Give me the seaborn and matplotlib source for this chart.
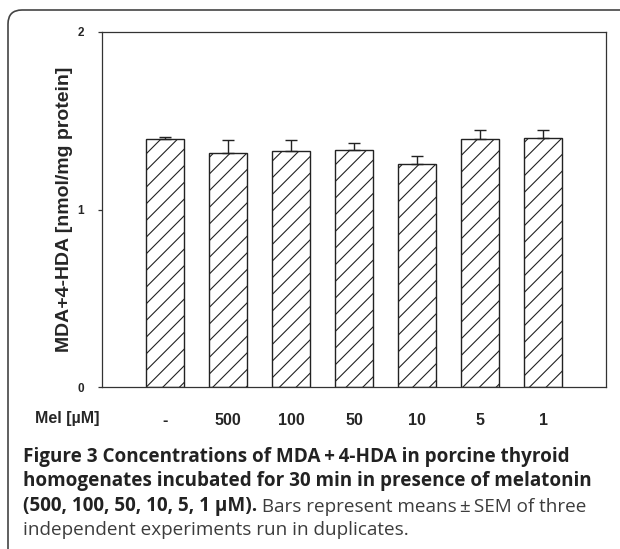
import numpy as np
import pandas as pd
import matplotlib
matplotlib.use("Agg")
import matplotlib.pyplot as plt
import matplotlib.patches as mpatches
import seaborn as sns

# data
categories = ["-", "500", "100", "50", "10", "5", "1"]
means = [1.400, 1.320, 1.330, 1.335, 1.255, 1.395, 1.405]
sem = [0.008, 0.070, 0.060, 0.040, 0.045, 0.053, 0.043]
y_ticks = [0, 1, 2]

W, H, DPI = 620, 549, 100

sns.set_theme(style="ticks")
plt.rcParams["font.family"] = ["Liberation Sans", "DejaVu Sans"]
plt.rcParams["hatch.linewidth"] = 0.8
plt.rcParams["hatch.color"] = "#222222"

df = pd.DataFrame({"conc": categories, "value": means, "sem": sem})

fig = plt.figure(figsize=(W / DPI, H / DPI), dpi=DPI)
ax = fig.add_axes([102 / W, (H - 387) / H, (606 - 102) / W, (387 - 32) / H])

sns.barplot(data=df, x="conc", y="value", order=categories, color="white",
            edgecolor="#222222", linewidth=1.0, hatch="//", width=0.6,
            errorbar=None, saturation=1, ax=ax)

# upper SEM only
xpos = np.arange(len(categories))
ax.errorbar(xpos, df["value"], yerr=[np.zeros(len(sem)), df["sem"]],
            fmt="none", ecolor="#222222", elinewidth=1.0, capsize=4, capthick=1.0)

ax.set_xlim(-1.0, 7.0)
ax.set_ylim(0, 2)
ax.set_yticks(y_ticks)
ax.set_yticklabels([str(t) for t in y_ticks], fontsize=8.5, fontweight="bold")
ax.set_xticks(xpos)
ax.set_xticklabels(categories, fontsize=11.5, fontweight="bold")
ax.tick_params(axis="x", length=0, pad=19)
ax.tick_params(axis="y", length=3, width=0.9, direction="out", pad=10,
               color="#333333")
ax.set_xlabel("")
ax.set_ylabel("MDA+4-HDA [nmol/mg protein]", fontsize=14, fontweight="bold",
              labelpad=3)
for s in ax.spines.values():
    s.set_visible(True)
    s.set_color("#333333")
    s.set_linewidth(0.9)

fig.text(35 / W, 1 - 418 / H, "Mel [\u00b5M]", fontsize=11.5, fontweight="bold",
         ha="left", va="center")

# caption
cap_font = ["Open Sans", "DejaVu Sans"]
bold_c, reg_c = "#222222", "#3c3c3c"
cap_size = 13.6
x0 = 23 / W
lines_y = [462, 486, 511, 535]
fig.text(x0, 1 - lines_y[0] / H,
         "Figure 3 Concentrations of MDA\u2009+\u20094-HDA in porcine thyroid",
         family=cap_font, fontsize=cap_size, fontweight="bold", color=bold_c,
         va="baseline")
fig.text(x0, 1 - lines_y[1] / H,
         "homogenates incubated for 30 min in presence of melatonin",
         family=cap_font, fontsize=cap_size, fontweight="bold", color=bold_c,
         va="baseline")
t3 = fig.text(x0, 1 - lines_y[2] / H, "(500, 100, 50, 10, 5, 1 \u00b5M).",
              family=cap_font, fontsize=cap_size, fontweight="bold", color=bold_c,
              va="baseline")
ax.annotate(" Bars represent means\u2009\u00b1\u2009SEM of three", xy=(1, 0),
            xycoords=t3, ha="left", va="bottom", family=cap_font,
            fontsize=cap_size, color=reg_c, annotation_clip=False)
fig.text(x0, 1 - lines_y[3] / H, "independent experiments run in duplicates.",
         family=cap_font, fontsize=cap_size, color=reg_c, va="baseline")

# rounded frame around the figure panel
frame = mpatches.FancyBboxPatch((8, -40), 700, H - 10 + 40,
                                boxstyle="round,pad=0,rounding_size=14",
                                transform=None, fill=False,
                                edgecolor="#444444", linewidth=1.2)
fig.patches.append(frame)

fig.savefig("out.png", dpi=DPI)
